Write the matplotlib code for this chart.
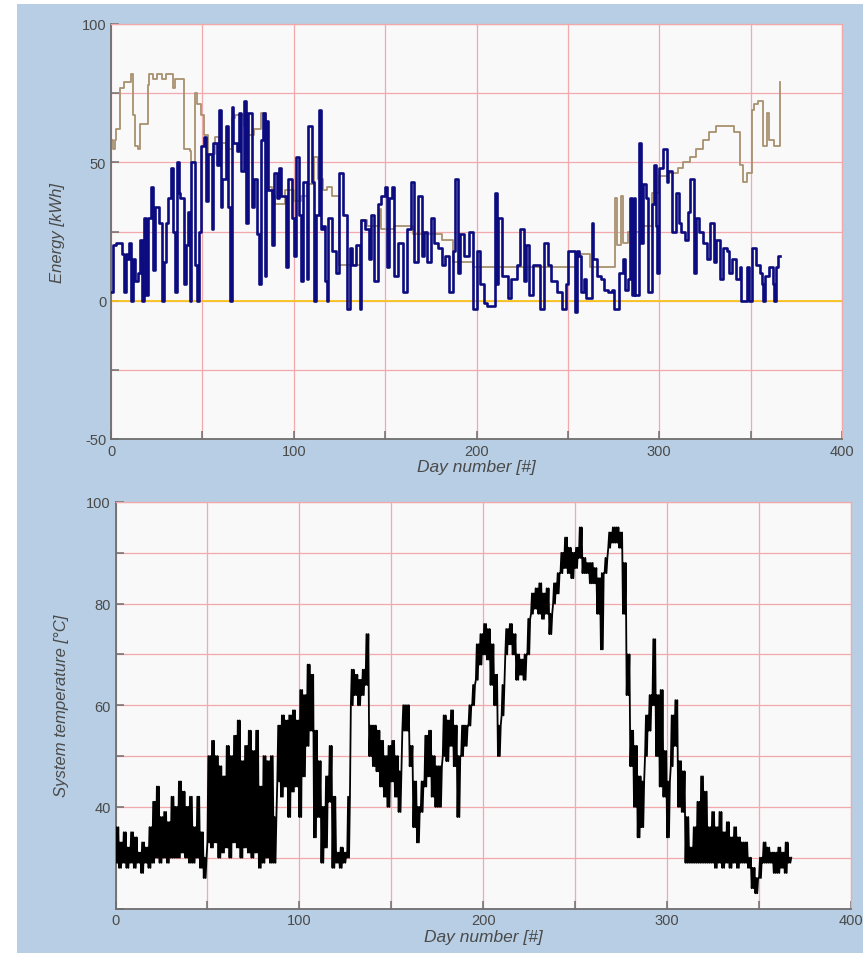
import matplotlib
matplotlib.use('Agg')
import matplotlib.pyplot as plt
from matplotlib.patches import Rectangle
from matplotlib.ticker import MultipleLocator

plt.rcParams['font.family'] = ['Liberation Sans', 'DejaVu Sans']
plt.rcParams['axes.unicode_minus'] = False

# energy panel, step change points (day, kWh)
blue_day = [0, 1, 3, 6, 7, 8, 9, 10, 11, 12, 13, 15, 16, 17, 18, 19, 20, 22, 23, 24,
            26, 28, 29, 30, 31, 33, 34, 35, 36, 37, 38, 40, 41, 42, 43, 44, 46, 47, 48, 49,
            51, 52, 53, 55, 56, 58, 59, 60, 61, 63, 64, 65, 66, 67, 69, 70, 71, 73, 74, 75,
            77, 78, 80, 81, 82, 83, 84, 85, 86, 88, 89, 91, 92, 93, 96, 97, 99, 100, 101, 103,
            104, 105, 107, 108, 110, 111, 112, 114, 115, 116, 117, 118, 119, 121, 123, 125, 127, 129, 131, 132,
            134, 136, 137, 139, 141, 142, 144, 146, 148, 150, 151, 152, 154, 155, 157, 160, 162, 164, 166, 168,
            170, 171, 173, 175, 177, 179, 181, 183, 185, 187, 188, 190, 191, 193, 196, 198, 200, 202, 204, 206,
            210, 211, 212, 214, 217, 219, 222, 224, 226, 227, 229, 231, 235, 237, 239, 241, 244, 247, 249, 250,
            254, 255, 256, 257, 259, 260, 263, 264, 266, 268, 270, 272, 274, 275, 278, 280, 281, 283, 284, 285,
            286, 287, 289, 290, 291, 293, 294, 296, 297, 298, 299, 300, 302, 304, 305, 307, 309, 311, 312, 314,
            316, 317, 319, 320, 322, 324, 326, 328, 330, 331, 333, 335, 337, 338, 340, 342, 344, 345, 348, 349,
            351, 353, 355, 356, 357, 358, 360, 362, 363, 364, 365, 366]
blue_kwh = [3, 20, 21, 17, 3, 17, 15, 21, 0, 15, 7, 10, 22, 0, 30, 2, 30, 41, 11, 34,
            28, 0, 14, 28, 37, 48, 25, 3, 50, 39, 37, 6, 20, 32, 0, 50, 13, 0, 25, 56,
            59, 36, 53, 26, 57, 49, 69, 34, 44, 63, 34, 0, 70, 57, 54, 68, 47, 72, 28, 68,
            34, 44, 24, 6, 58, 68, 9, 65, 40, 20, 46, 37, 48, 38, 12, 44, 30, 16, 52, 31,
            7, 43, 8, 63, 43, 0, 31, 69, 26, 27, 7, 0, 30, 18, 10, 46, 31, -3, 19, 13,
            20, -3, 29, 26, 15, 31, 7, 35, 38, 41, 12, 37, 41, 9, 21, 3, 26, 43, 14, 38,
            16, 25, 14, 30, 21, 19, 13, 16, 3, 18, 44, 10, 24, 16, 25, -3, 18, 6, -1, -2,
            39, 6, 30, 9, 1, 8, 13, 26, 7, 20, 2, 13, -3, 21, 13, 7, 3, -3, 6, 18,
            -4, 18, 16, 3, 8, 1, 28, 15, 9, 8, 4, 3, 4, -3, 10, 15, 4, 8, 37, 2,
            37, 2, 57, 21, 42, 37, 3, 35, 49, 27, 10, 48, 55, 43, 47, 25, 39, 28, 25, 22,
            32, 44, 10, 30, 25, 21, 15, 28, 14, 22, 8, 19, 18, 10, 15, 8, 12, 0, 12, 0,
            19, 13, 10, 6, 0, 9, 12, 6, 0, 12, 16, 16]

tan_day = [0, 1, 2, 3, 5, 7, 11, 12, 13, 15, 16, 20, 21, 23, 25, 28, 30, 34, 35, 40,
           43, 44, 46, 47, 49, 51, 53, 57, 59, 61, 63, 66, 68, 73, 75, 78, 82, 85, 88, 90,
           95, 100, 104, 108, 111, 113, 116, 118, 121, 125, 137, 140, 147, 148, 155, 165, 181, 187, 198, 255,
           256, 262, 276, 277, 279, 280, 283, 290, 296, 300, 305, 310, 313, 317, 320, 324, 327, 331, 341, 344,
           346, 348, 351, 352, 354, 357, 359, 360, 363, 366]
tan_kwh = [58, 55, 58, 62, 77, 79, 82, 67, 56, 55, 64, 78, 82, 80, 82, 80, 82, 77, 80, 55,
           54, 50, 75, 71, 67, 60, 53, 59, 55, 57, 55, 66, 67, 63, 60, 62, 68, 41, 38, 35,
           40, 36, 38, 42, 52, 44, 40, 41, 38, 13, 29, 27, 33, 26, 27, 24, 22, 14, 12, 16,
           17, 12, 37, 20, 38, 21, 25, 27, 39, 45, 46, 48, 50, 52, 55, 58, 61, 63, 61, 49,
           43, 46, 69, 71, 72, 56, 68, 58, 56, 79]

# temperature panel, low/high envelope every 2 days
temp_day = list(range(0, 367, 2))
temp_low = [29, 28, 29, 28, 29, 28, 29, 27, 29, 28, 29, 30, 29, 30, 29, 30, 30, 30, 31, 30,
            29, 29, 30, 28, 26, 33, 32, 33, 30, 31, 32, 30, 33, 32, 30, 32, 31, 30, 31, 28,
            29, 30, 29, 29, 45, 42, 44, 38, 43, 44, 38, 46, 52, 55, 34, 38, 29, 32, 41, 28,
            29, 28, 29, 30, 60, 62, 60, 62, 64, 50, 48, 47, 44, 42, 40, 45, 42, 39, 55, 55,
            48, 36, 33, 39, 44, 46, 42, 40, 40, 50, 49, 52, 48, 38, 50, 52, 56, 60, 65, 68,
            70, 69, 64, 60, 50, 58, 70, 72, 70, 65, 66, 65, 70, 78, 79, 78, 77, 78, 74, 80,
            82, 86, 87, 86, 85, 87, 89, 86, 86, 84, 84, 78, 71, 86, 91, 92, 92, 91, 78, 62,
            48, 40, 34, 36, 50, 55, 60, 50, 44, 42, 34, 48, 52, 40, 39, 29, 29, 29, 29, 29,
            29, 29, 29, 28, 29, 28, 29, 28, 29, 28, 29, 29, 28, 24, 23, 26, 29, 29, 29, 27,
            27, 28, 27, 29]
temp_high = [36, 33, 35, 32, 35, 34, 31, 33, 32, 36, 41, 44, 38, 39, 37, 42, 40, 45, 43, 40,
             42, 36, 42, 35, 30, 50, 53, 50, 48, 46, 52, 50, 54, 57, 49, 52, 55, 51, 55, 44,
             50, 49, 50, 38, 56, 58, 57, 58, 59, 57, 63, 62, 68, 66, 55, 49, 40, 46, 52, 42,
             31, 32, 31, 42, 67, 66, 65, 67, 74, 56, 56, 55, 53, 50, 52, 53, 50, 47, 60, 60,
             52, 45, 40, 45, 54, 55, 50, 48, 48, 58, 57, 59, 56, 50, 56, 56, 60, 64, 72, 74,
             76, 75, 72, 66, 56, 64, 75, 76, 74, 70, 69, 70, 77, 82, 83, 84, 82, 83, 78, 84,
             86, 90, 93, 91, 90, 91, 95, 89, 88, 88, 87, 85, 86, 89, 94, 95, 95, 94, 88, 70,
             55, 52, 46, 45, 58, 62, 73, 62, 63, 51, 45, 58, 61, 49, 47, 38, 32, 36, 41, 46,
             43, 36, 39, 36, 39, 35, 37, 34, 36, 34, 33, 33, 30, 28, 26, 30, 33, 32, 31, 31,
             32, 31, 33, 30]

bg = '#b8cee4'
grid_col = '#f2a9ab'
axis_col = '#6e6e6e'
text_col = '#4a4a4a'

fig = plt.figure(figsize=(8.63, 9.54), dpi=100)
fig.patches.append(Rectangle((17 / 863, 0), 1, 1 - 5 / 954, transform=fig.transFigure,
                             facecolor=bg, edgecolor='none', zorder=-10))

ax1 = fig.add_axes([111 / 863, 1 - 440 / 954, 731 / 863, 415 / 954])
ax2 = fig.add_axes([115.5 / 863, 1 - 909.5 / 954, 735.5 / 863, 406.5 / 954])


def style(ax):
    ax.set_facecolor('#f9f9f9')
    ax.grid(True, which='both', color=grid_col, linewidth=0.9)
    ax.set_axisbelow(True)
    for s in ['top', 'right']:
        ax.spines[s].set_color(grid_col)
        ax.spines[s].set_linewidth(0.9)
    for s in ['left', 'bottom']:
        ax.spines[s].set_color(axis_col)
        ax.spines[s].set_linewidth(1.3)
    ax.tick_params(which='both', direction='in', length=6, width=1.1, color=axis_col,
                   labelcolor=text_col, labelsize=10.5)
    ax.xaxis.set_major_locator(MultipleLocator(100))
    ax.xaxis.set_minor_locator(MultipleLocator(50))
    ax.set_xlim(0, 400)
    ax.set_xlabel('Day number [#]', fontsize=12.5, style='italic', color=text_col, labelpad=1)


style(ax1)
ax1.axhline(0, color='#f7c31a', linewidth=1.3, zorder=1)
ax1.step(tan_day, tan_kwh, where='post', color='#a8916f', linewidth=1.3, zorder=2)
ax1.step(blue_day, blue_kwh, where='post', color='#0c0c80', linewidth=1.9, zorder=3)
ax1.set_ylim(-50, 100)
ax1.yaxis.set_major_locator(MultipleLocator(50))
ax1.yaxis.set_minor_locator(MultipleLocator(25))
ax1.set_ylabel('Energy [kWh]', fontsize=12, style='italic', color=text_col, labelpad=12)

style(ax2)
# hourly noise drawn as a dense swing between the read low and high of each bin
zz_x = []
zz_y = []
for d, lo, hi in zip(temp_day, temp_low, temp_high):
    zz_x += [d, d + 0.5, d + 1, d + 1.5]
    zz_y += [lo, hi, lo, hi]
ax2.plot(zz_x, zz_y, color='black', linewidth=1.3, zorder=3)
ax2.set_ylim(20, 100)
ax2.yaxis.set_minor_locator(MultipleLocator(10))
ax2.set_yticks([40, 60, 80, 100])
ax2.set_ylabel('System temperature [°C]', fontsize=12, style='italic', color=text_col, labelpad=12)

plt.savefig('out.png', dpi=100)
